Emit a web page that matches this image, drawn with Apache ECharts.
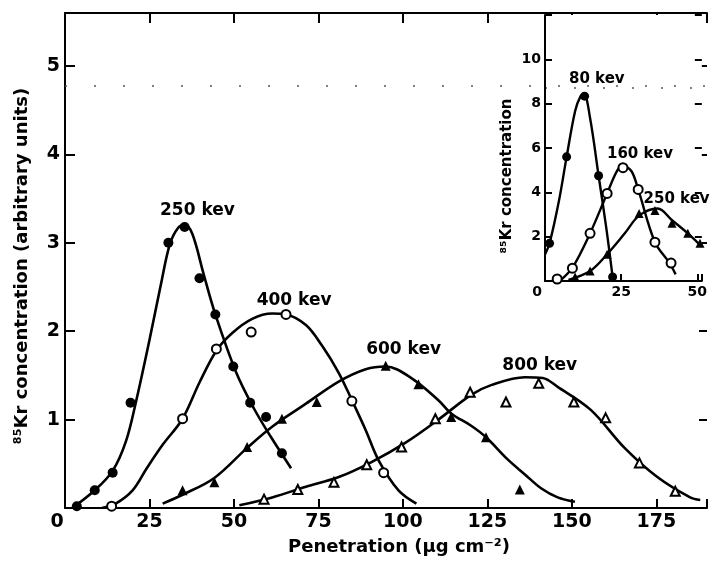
<!DOCTYPE html>
<html>
<head>
<meta charset="utf-8">
<script src="https://cdn.jsdelivr.net/npm/echarts@6/dist/echarts.min.js"></script>
<style>
  html, body { margin: 0; padding: 0; background: #fff; }
  #chart { width: 710px; height: 565px; }
</style>
</head>
<body>
<div id="chart"></div>
<script>
// main chart: measured points [penetration, concentration]
var pts250 = [[3.5,0.02],[8.8,0.2],[14.1,0.4],[19.4,1.19],[30.6,3.0],[35.4,3.18],[39.8,2.6],[44.5,2.19],[49.8,1.6],[54.8,1.19],[59.5,1.03],[64.2,0.62]];
var pts400 = [[13.8,0.02],[34.8,1.01],[44.8,1.8],[55.1,1.99],[65.4,2.19],[84.9,1.21],[94.3,0.4]];
var pts600 = [[34.8,0.2],[44.2,0.29],[53.9,0.69],[64.2,1.01],[74.5,1.2],[94.9,1.61],[104.6,1.4],[114.3,1.03],[124.6,0.8],[134.6,0.21]];
var pts800 = [[58.9,0.1],[68.9,0.21],[79.6,0.29],[89.3,0.49],[99.6,0.69],[109.6,1.01],[119.9,1.31],[130.5,1.2],[140.2,1.41],[150.6,1.2],[160,1.02],[170,0.51],[180.6,0.19]];

// main chart: fitted curves
var curve250 = [[2.2,0],[8.8,0.2],[14.1,0.42],[18,0.75],[21,1.2],[25,1.9],[28.5,2.55],[31,2.98],[33.5,3.17],[35.5,3.2],[37.7,3.1],[41,2.65],[44.5,2.19],[50.7,1.53],[56,1.12],[61,0.8],[66.9,0.45]];
var curve400 = [[10.9,0],[15,0.05],[20,0.2],[24.2,0.45],[29,0.72],[34.8,1.01],[39.8,1.42],[44.8,1.78],[49.5,1.98],[55.4,2.14],[61.3,2.2],[65.4,2.19],[71.3,2.07],[76,1.84],[81,1.53],[84.9,1.22],[89,0.88],[92.8,0.54],[98.7,0.2],[104,0.05]];
var curve600 = [[28.9,0.05],[34.8,0.15],[44.2,0.34],[53.9,0.68],[61.3,0.92],[71.3,1.18],[81,1.43],[89,1.57],[94.9,1.6],[102.5,1.47],[110.5,1.22],[114.3,1.07],[120.2,0.93],[124.6,0.8],[131,0.55],[136.1,0.38],[141,0.22],[145.8,0.12],[150.9,0.07]];
var curve800 = [[51.6,0.03],[61.3,0.12],[71.3,0.24],[81,0.35],[90.7,0.52],[100.8,0.74],[110.5,1.0],[120.2,1.28],[126.1,1.39],[136.1,1.48],[141.4,1.47],[145.8,1.37],[155.6,1.11],[165.6,0.68],[175.3,0.35],[185,0.12],[188,0.09]];

// inset
var inPts80 = [[1.5,1.7],[7.1,5.6],[13,8.34],[17.6,4.75],[22.2,0.18]];
var inPts160 = [[4,0.09],[9,0.58],[14.8,2.15],[20.4,3.95],[25.6,5.11],[30.6,4.13],[36.1,1.75],[41.4,0.81]];
var inPts250 = [[9.9,0.18],[14.8,0.45],[20.4,1.21],[30.9,3.05],[36.1,3.18],[41.7,2.6],[46.9,2.15],[50.9,1.7]];
var inCurve80 = [[0,1.2],[1.5,1.7],[4.6,3.63],[7.1,5.6],[9.9,7.67],[11.7,8.34],[12.8,8.42],[14.8,7.35],[17.6,4.75],[20.1,2.42],[22.2,0.18]];
var inCurve160 = [[5,0.02],[9,0.6],[14.8,2.15],[20.4,3.95],[23.8,5.0],[25.6,5.18],[28.4,4.95],[30.6,4.13],[36.1,1.75],[40.7,0.85],[42.9,0.3]];
var inCurve250 = [[7.7,0.05],[14.8,0.45],[20.4,1.21],[26.2,2.15],[30.9,2.95],[37,3.27],[41.7,2.74],[46.9,2.15],[51.5,1.55]];

// curve labels
var mainLabels = [['250 kev',39.2,3.36],['400 kev',67.8,2.35],['600 kev',100.2,1.79],['800 kev',140.5,1.61]];
var insetLabels = [['80 kev',17,9.1],['160 kev',31.2,5.74],['250 kev',43.2,3.68]];

var FONT = '"DejaVu Sans", sans-serif';
var INK = '#000';

var myChart = echarts.init(document.getElementById('chart'));

function curve(name, data, xi, w) {
    return {
        name: name, type: 'line', xAxisIndex: xi, yAxisIndex: xi,
        data: data, smooth: 0.35, showSymbol: false, symbol: 'none',
        lineStyle: {color: INK, width: w}, z: xi ? 8 : 2, silent: true
    };
}
function marks(name, data, xi, sym, size) {
    var empty = sym.indexOf('empty') === 0;
    return {
        name: name, type: 'scatter', xAxisIndex: xi, yAxisIndex: xi,
        data: data, symbol: sym, symbolSize: size,
        itemStyle: {color: INK, borderWidth: empty ? 1.6 : 0, opacity: 1},
        z: xi ? 9 : 3, silent: true
    };
}
// text next to each curve, placed in data coordinates
function texts(list, xi, size) {
    return {
        type: 'scatter', xAxisIndex: xi, yAxisIndex: xi, symbolSize: 0,
        itemStyle: {color: INK},
        data: list.map(function (l) { return {name: l[0], value: [l[1], l[2]]}; }),
        label: {show: true, position: 'inside', formatter: '{b}', color: INK, opacity: 1,
            textBorderWidth: 0, fontFamily: FONT, fontSize: size, fontWeight: 'bold'},
        z: xi ? 10 : 4, silent: true
    };
}
function dotted(xi, y) {
    return {
        type: 'line', xAxisIndex: xi, yAxisIndex: xi, data: [], z: xi ? 7 : 1, silent: true,
        markLine: {symbol: 'none', silent: true, label: {show: false},
            lineStyle: {color: '#555', width: 1.6, type: [2, 27]},
            data: [{yAxis: y}]}
    };
}

var axisLine = {onZero: false, lineStyle: {color: INK, width: 2}};
function ticks(len) { return {inside: true, length: len, lineStyle: {color: INK, width: 2}}; }

myChart.setOption({
    animation: false,
    backgroundColor: '#fff',
    grid: [
        {left: 65, top: 13, width: 646, height: 495},
        {left: 545, top: 15, width: 167, height: 266, show: true, backgroundColor: '#fff', borderWidth: 0, z: 5}
    ],
    xAxis: [
        {
            gridIndex: 0, type: 'value', min: 0, max: 190, interval: 25,
            axisLine: axisLine, axisTick: ticks(9), splitLine: {show: false},
            axisLabel: {
                color: INK, fontFamily: FONT, fontSize: 19, fontWeight: 'bold', margin: 5,
                formatter: function (v) { return v === 0 ? '{o|0}' : (v % 25 === 0 ? String(v) : ''); },
                rich: {o: {fontFamily: FONT, fontSize: 19, fontWeight: 'bold', color: INK, padding: [0, 16, 0, 0]}}
            },
            name: 'Penetration (µg cm⁻²)', nameLocation: 'middle', nameGap: 30,
            nameTextStyle: {color: INK, fontFamily: FONT, fontSize: 18, fontWeight: 'bold', padding: [0, 0, 0, 26]}
        },
        {
            gridIndex: 0, type: 'value', position: 'top', min: 0, max: 190, interval: 25,
            axisLine: axisLine, axisTick: ticks(10), axisLabel: {show: false}, splitLine: {show: false}
        },
        {
            gridIndex: 1, type: 'value', min: 0, max: 51.5, interval: 25, z: 6,
            axisLine: axisLine, axisTick: ticks(7), splitLine: {show: false},
            axisLabel: {
                color: INK, fontFamily: FONT, fontSize: 14, fontWeight: 'bold', margin: 4,
                formatter: function (v) { return v === 0 ? '{o|0}' : (v % 25 === 0 ? String(v) : ''); },
                rich: {o: {fontFamily: FONT, fontSize: 14, fontWeight: 'bold', color: INK, padding: [0, 16, 0, 0]}}
            }
        }
    ],
    yAxis: [
        {
            gridIndex: 0, type: 'value', min: 0, max: 5.6, interval: 1,
            axisLine: axisLine, axisTick: ticks(10), splitLine: {show: false},
            axisLabel: {
                color: INK, fontFamily: FONT, fontSize: 19, fontWeight: 'bold', margin: 5,
                formatter: function (v) { return (v === 0 || v % 1 !== 0) ? '' : String(v); }
            },
            name: '⁸⁵Kr concentration (arbitrary units)', nameLocation: 'middle', nameGap: 34,
            nameTextStyle: {color: INK, fontFamily: FONT, fontSize: 18, fontWeight: 'bold', padding: [0, 11, 0, 0]}
        },
        {
            gridIndex: 0, type: 'value', position: 'right', min: 0, max: 5.6, interval: 1,
            axisLine: {show: false, onZero: false}, axisTick: ticks(8), axisLabel: {show: false}, splitLine: {show: false}
        },
        {
            gridIndex: 1, type: 'value', min: 0, max: 12, interval: 2, z: 6,
            axisLine: axisLine, axisTick: ticks(7), splitLine: {show: false},
            axisLabel: {
                color: INK, fontFamily: FONT, fontSize: 14, fontWeight: 'bold', margin: 4,
                formatter: function (v) { return (v === 0 || v === 12) ? '' : String(v); }
            },
            name: '⁸⁵Kr concentration', nameLocation: 'middle', nameGap: 30,
            nameTextStyle: {color: INK, fontFamily: FONT, fontSize: 15, fontWeight: 'bold', padding: [0, 56, 0, 0]}
        },
        {
            gridIndex: 1, type: 'value', position: 'right', min: 0, max: 12, interval: 2, z: 6,
            axisLine: {show: false, onZero: false}, axisTick: ticks(7), axisLabel: {show: false}, splitLine: {show: false}
        }
    ],
    series: [
        dotted(0, 4.78),
        curve('250 kev', curve250, 0, 2.6),
        curve('400 kev', curve400, 0, 2.6),
        curve('600 kev', curve600, 0, 2.6),
        curve('800 kev', curve800, 0, 2.6),
        marks('250 kev', pts250, 0, 'circle', 10),
        marks('400 kev', pts400, 0, 'emptyCircle', 9),
        marks('600 kev', pts600, 0, 'triangle', 10),
        marks('800 kev', pts800, 0, 'emptyTriangle', 9),
        texts(mainLabels, 0, 17),

        dotted(2, 8.7),
        curve('80 kev', inCurve80, 2, 2.4),
        curve('160 kev', inCurve160, 2, 2.4),
        curve('250 kev', inCurve250, 2, 2.4),
        marks('80 kev', inPts80, 2, 'circle', 9),
        marks('160 kev', inPts160, 2, 'emptyCircle', 9),
        marks('250 kev', inPts250, 2, 'triangle', 9),
        texts(insetLabels, 2, 15)
    ]
});
</script>
</body>
</html>
